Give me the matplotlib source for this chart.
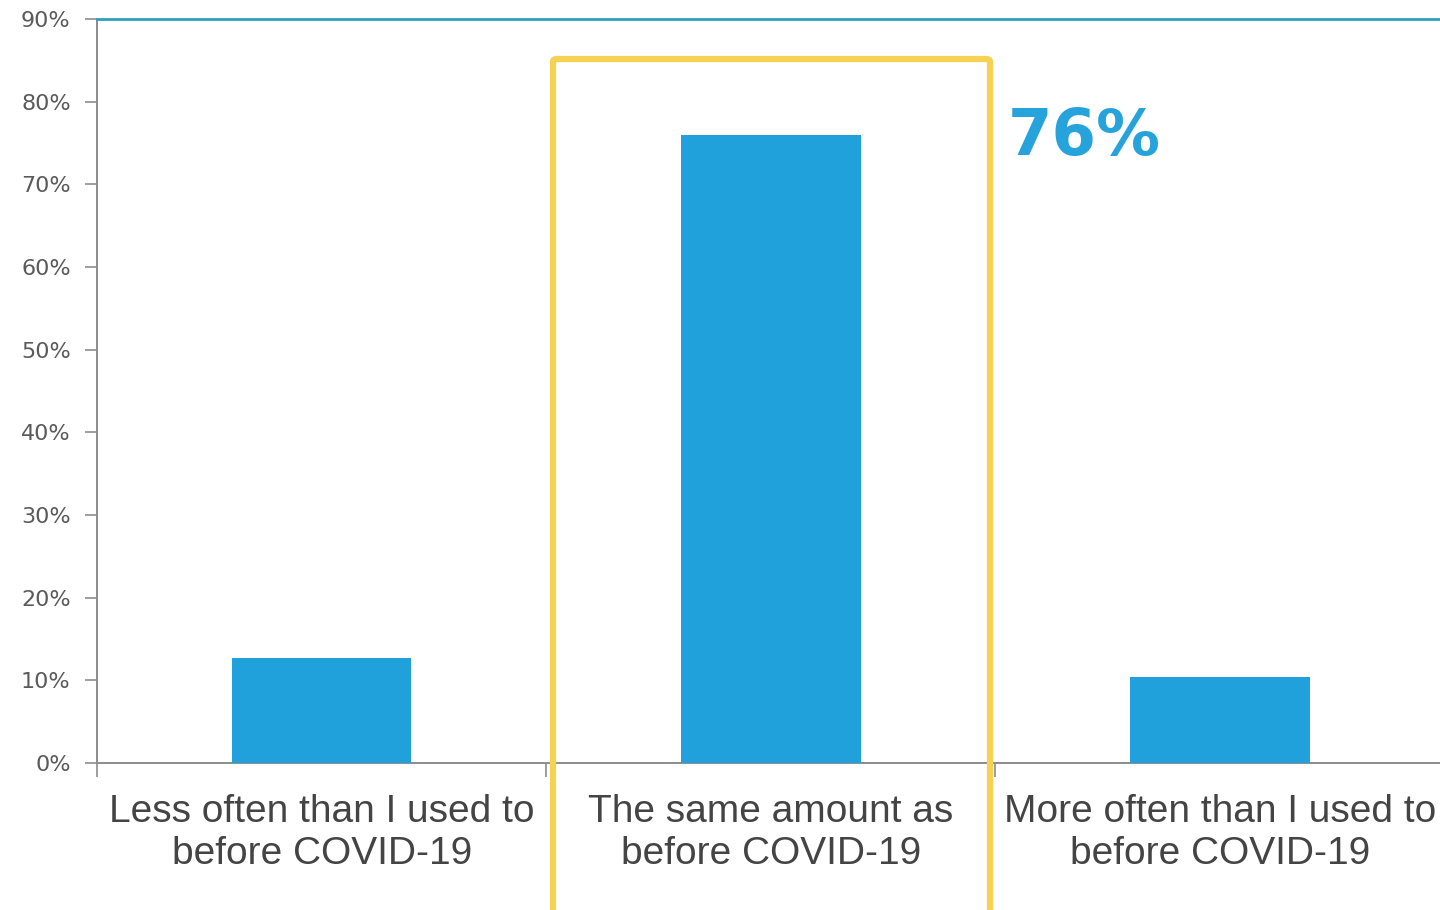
import matplotlib
matplotlib.use("Agg")
import matplotlib.pyplot as plt
from matplotlib.patches import FancyBboxPatch
from matplotlib.ticker import MultipleLocator, FuncFormatter, FixedLocator

categories = [
    "Less often than I used to\nbefore COVID-19",
    "The same amount as\nbefore COVID-19",
    "More often than I used to\nbefore COVID-19",
]
shares = [12.7, 76, 10.4]
highlight_index = 1

BAR_COLOR = "#21a1dc"
TEXT_COLOR = "#444444"
AXIS_COLOR = "#8c8c8c"

fig = plt.figure(figsize=(14.4, 9.1), dpi=100)
ax = fig.add_axes([0.0674, 0.1615, 0.9326, 0.8176])

x = list(range(len(categories)))
ax.bar(x, shares, width=0.4, color=BAR_COLOR, zorder=3)

ax.set_ylim(0, 90)
ax.set_xlim(-0.5, 2.49)
ax.yaxis.set_major_locator(MultipleLocator(10))
ax.yaxis.set_major_formatter(FuncFormatter(lambda v, _: f"{v:.0f}%"))

ax.set_xticks(x)
ax.set_xticklabels(categories, fontsize=28, color=TEXT_COLOR,
                   family="Liberation Sans", linespacing=1.22)
ax.xaxis.set_minor_locator(FixedLocator([-0.5, 0.5, 1.5]))
ax.tick_params(axis="x", which="major", length=0, pad=22)
ax.tick_params(axis="x", which="minor", length=10, color=AXIS_COLOR, width=1.2)
ax.tick_params(axis="y", length=9, color=AXIS_COLOR, width=1.2,
               labelsize=16, labelcolor="#5a5a5a", pad=10)
for lbl in ax.get_yticklabels():
    lbl.set_family("DejaVu Sans")

for side in ("left", "bottom"):
    ax.spines[side].set_color(AXIS_COLOR)
    ax.spines[side].set_linewidth(1.4)
ax.spines["right"].set_visible(False)
ax.spines["top"].set_color("#2f9fc4")
ax.spines["top"].set_linewidth(2)

# Highlight frame around the middle category, running off the bottom edge
frame = FancyBboxPatch((553 / 1440, -0.05), (990 - 553) / 1440, (910 - 59) / 910 + 0.05,
                       boxstyle="round,pad=0,rounding_size=0.003",
                       transform=fig.transFigure, fill=False,
                       edgecolor="#f5d251", linewidth=4.5, zorder=10)
fig.patches.append(frame)

fig.text(1008 / 1440, 1 - 155 / 910, f"{round(shares[highlight_index])}%",
         fontsize=46, fontweight="bold", family="DejaVu Sans",
         color="#27a3dc", ha="left", va="baseline")

fig.savefig("out.png", dpi=100, facecolor="white")
